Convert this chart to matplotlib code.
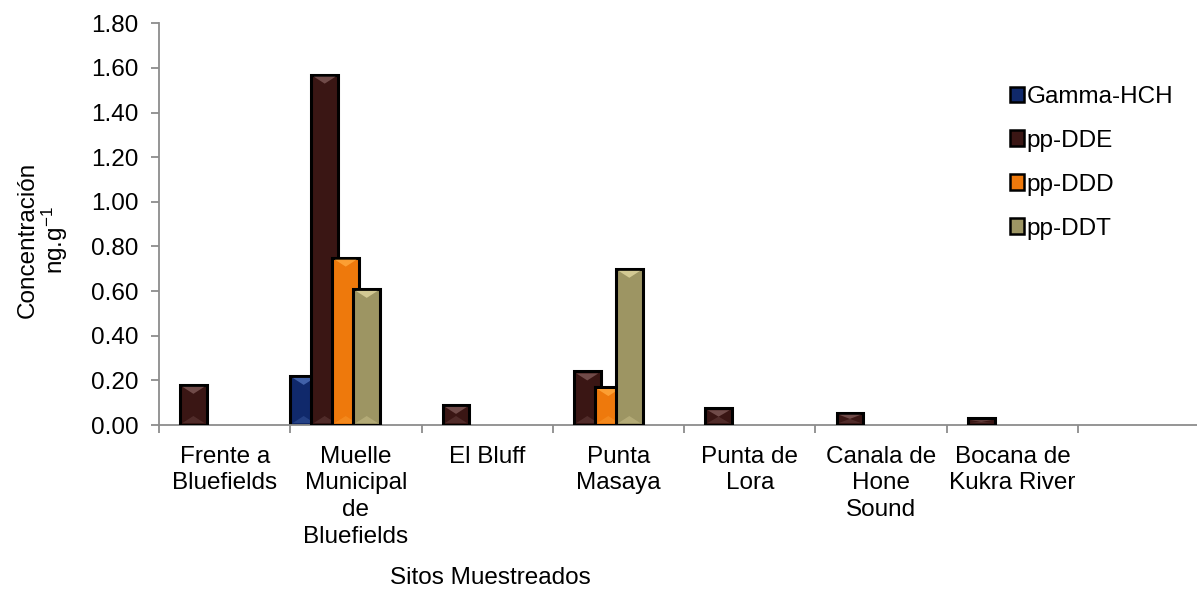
import matplotlib.pyplot as plt
from matplotlib.patches import Polygon, Patch
import numpy as np

plt.rcParams['font.family'] = ['Liberation Sans', 'DejaVu Sans']
plt.rcParams['mathtext.default'] = 'regular'

sitios = ['Frente a\nBluefields', 'Muelle\nMunicipal\nde\nBluefields', 'El Bluff',
          'Punta\nMasaya', 'Punta de\nLora', 'Canala de\nHone\nSound',
          'Bocana de\nKukra River', '']
series = ['Gamma-HCH', 'pp-DDE', 'pp-DDD', 'pp-DDT']

gamma_hch = [0.00, 0.22, 0.00, 0.00, 0.00, 0.00, 0.00, 0.00]
pp_dde = [0.18, 1.57, 0.09, 0.24, 0.075, 0.055, 0.03, 0.00]
pp_ddd = [0.00, 0.75, 0.00, 0.17, 0.00, 0.00, 0.00, 0.00]
pp_ddt = [0.00, 0.61, 0.00, 0.70, 0.00, 0.00, 0.00, 0.00]

colores = ['#10296b', '#3a1614', '#ee790c', '#9d9563']
brillo = ['#4a6cb4', '#7a5553', '#ffa63a', '#ddd39c']

fs = 17.5
W, H = 1197, 594
fig = plt.figure(figsize=(W / 100, H / 100), dpi=100)
ax_l, ax_r, ax_t, ax_b = 159, 1197, 23.3, 425
ax = fig.add_axes([ax_l / W, 1 - ax_b / H, (ax_r - ax_l) / W, (ax_b - ax_t) / H])

paso_cat = 131.3  # pixeles por categoria
xmax = -0.5 + (ax_r - ax_l) / paso_cat
ax.set_xlim(-0.5, xmax)
ax.set_ylim(0, 1.8)
px_x = 1 / paso_cat
px_y = 1.8 / (ax_b - ax_t)

ancho = 0.204
desplaz = 0.16
x = np.arange(len(sitios))
datos = [gamma_hch, pp_dde, pp_ddd, pp_ddt]

for k, vals in enumerate(datos):
    izq = x - 0.5 + k * desplaz
    for xi, v in zip(izq, vals):
        if v <= 0:
            continue
        ax.bar(xi, v, width=ancho, align='edge', color=colores[k],
               edgecolor='black', linewidth=2.2, zorder=2 + k)
        # bisel: triangulo claro arriba y abajo
        prof = min(9 * px_y, v / 2)
        m = 2.5 * px_x
        arriba = [(xi + m, v - 2 * px_y), (xi + ancho - m, v - 2 * px_y),
                  (xi + ancho / 2, v - prof)]
        ax.add_patch(Polygon(arriba, closed=True, facecolor=brillo[k],
                             edgecolor='none', alpha=0.85, zorder=2.1 + k))
        abajo = [(xi + m, 2 * px_y), (xi + ancho - m, 2 * px_y),
                 (xi + ancho / 2, min(9 * px_y, v / 2))]
        ax.add_patch(Polygon(abajo, closed=True, facecolor=brillo[k],
                             edgecolor='none', alpha=0.35, zorder=2.1 + k))

gris = '#8c8c8c'
for lado in ['top', 'right']:
    ax.spines[lado].set_visible(False)
for lado in ['left', 'bottom']:
    ax.spines[lado].set_color(gris)
    ax.spines[lado].set_linewidth(1.3)

ax.set_yticks(np.arange(0, 1.81, 0.2))
ax.set_yticklabels(['%.2f' % v for v in np.arange(0, 1.81, 0.2)], fontsize=fs)
ax.tick_params(axis='y', colors=gris, length=6, width=1.3, labelcolor='black', pad=9)

ax.set_xticks(np.arange(-0.5, xmax, 1.0))
ax.set_xticklabels([])
ax.set_xticks(x[:7], minor=True)
ax.set_xticklabels(sitios[:7], minor=True, fontsize=fs, linespacing=1.27, va='top')
ax.tick_params(axis='x', which='minor', length=0, pad=15)
ax.tick_params(axis='x', which='major', colors=gris, length=6, width=1.3)

fig.text(490 / W, 1 - 578 / H, 'Sitos Muestreados', fontsize=fs, ha='center', va='center')
fig.text(43 / W, 1 - 240 / H, 'Concentración\nng.g$^{-1}$', fontsize=fs, rotation=90,
         ha='center', va='center', linespacing=1.05)

handles = [Patch(facecolor=c, edgecolor='black', linewidth=1.8) for c in colores]
ax.legend(handles, series, loc='upper left', bbox_to_anchor=(988 / W, 1 - 64 / H),
          bbox_transform=fig.transFigure, frameon=False, fontsize=fs,
          handlelength=0.6, handleheight=0.6, handletextpad=0.1, labelspacing=0.9)

fig.savefig('out.png', dpi=100)
